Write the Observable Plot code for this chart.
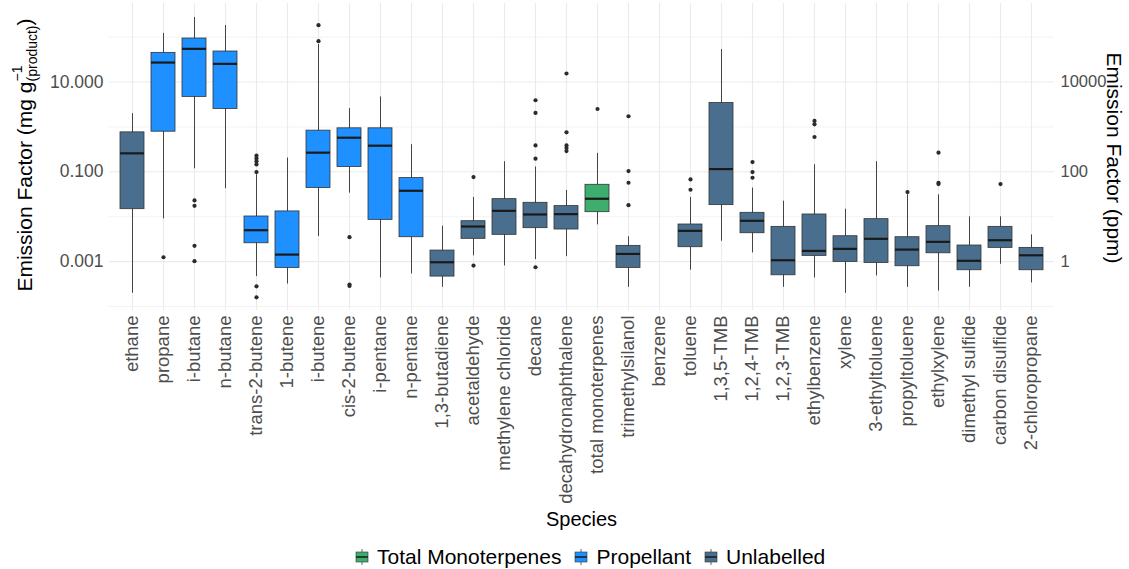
<!DOCTYPE html>
<html>
<head>
<meta charset="utf-8">
<script src="https://cdn.jsdelivr.net/npm/d3@7"></script>
<script src="https://cdn.jsdelivr.net/npm/@observablehq/plot@0.6"></script>
<style>
  html, body { margin: 0; padding: 0; background: #fff; width: 1129px; height: 569px; overflow: hidden; }
  body { font-family: "Liberation Sans", Arial, sans-serif; }
  #legend { height: 29px; box-sizing: border-box; padding-top: 5px; display: flex; align-items: center; padding-left: 355px; font-size: 21px; color: #000; }
  .item { display: flex; align-items: center; margin-right: 13px; }
  .item svg { margin-right: 8px; }
</style>
</head>
<body>
<div id="chart"></div>
<div id="legend"></div>
<script>
// ---- data (mg g^-1) ----
const species = ["ethane","propane","i-butane","n-butane","trans-2-butene","1-butene","i-butene","cis-2-butene","i-pentane","n-pentane","1,3-butadiene","acetaldehyde","methylene chloride","decane","decahydronaphthalene","total monoterpenes","trimethylsilanol","benzene","toluene","1,3,5-TMB","1,2,4-TMB","1,2,3-TMB","ethylbenzene","xylene","3-ethyltoluene","propyltoluene","ethylxylene","dimethyl sulfide","carbon disulfide","2-chloropropane"];
const group = ["Unlabelled","Propellant","Propellant","Propellant","Propellant","Propellant","Propellant","Propellant","Propellant","Propellant","Unlabelled","Unlabelled","Unlabelled","Unlabelled","Unlabelled","Total Monoterpenes","Unlabelled","Unlabelled","Unlabelled","Unlabelled","Unlabelled","Unlabelled","Unlabelled","Unlabelled","Unlabelled","Unlabelled","Unlabelled","Unlabelled","Unlabelled","Unlabelled"];
const whiskerLow  = [0.000196,0.00895,0.117,0.0419,0.000463,0.000317,0.00362,0.0335,0.000432,0.000531,0.000267,0.00134,0.0008,0.00111,0.00129,0.00658,0.000267,null,0.000641,0.00284,0.00156,0.000267,0.000432,0.000196,0.000479,0.000267,0.000221,0.000267,0.000871,0.000334];
const boxLow      = [0.0147,0.783,4.66,2.51,0.00256,0.000722,0.0434,0.128,0.0085,0.00349,0.000463,0.00321,0.00394,0.00555,0.00518,0.0126,0.000722,null,0.00209,0.0181,0.00428,0.000495,0.00134,0.000984,0.000933,0.000787,0.00153,0.000641,0.00202,0.000641];
const median      = [0.258,27.2,54.9,25.4,0.0050,0.00143,0.267,0.575,0.382,0.0378,0.000966,0.00604,0.0135,0.0112,0.0114,0.0251,0.00148,null,0.00484,0.115,0.0081,0.00107,0.00173,0.00192,0.00321,0.00185,0.00275,0.00104,0.00299,0.00138];
const boxHigh     = [0.757,44.7,93.3,47.9,0.0101,0.0131,0.826,0.931,0.931,0.0724,0.00176,0.00794,0.0246,0.0204,0.0172,0.0514,0.00224,null,0.0067,3.42,0.0122,0.00594,0.0112,0.00367,0.00881,0.00349,0.00615,0.00228,0.00594,0.00202];
const whiskerHigh = [1.98,121,275,182,0.0861,0.203,68.6,2.56,4.66,0.402,0.00615,0.0269,0.168,0.128,0.0385,0.258,0.00356,null,0.0269,53.1,0.0434,0.0222,0.144,0.0147,0.168,0.0308,0.0308,0.00993,0.00993,0.00394];
const outliers = [
  [], [0.00125], [0.023,0.0175,0.00224,0.00102], [],
  [0.229,0.199,0.171,0.146,0.0986,0.000281,0.00016], [], [185,81.4], [0.00349,0.000307,0.000286],
  [], [], [], [0.0762,0.000815], [], [3.93,2.05,0.388,0.196,0.000748],
  [15.5,0.757,0.388,0.339,0.290], [2.51], [1.73,0.104,0.057,0.0181], [],
  [0.0676,0.0398], [], [0.165,0.0986,0.0738], [], [1.36,1.14,0.596], [], [], [0.0353],
  [0.267,0.057,0.0532], [], [0.0532], []
];
const groups = ["Total Monoterpenes","Propellant","Unlabelled"];
const groupColors = ["#3dae6e","#1e90ff","#4a6f8e"];
const yTicks = [0.001, 0.1, 10];
const yMinor = [0.0001, 0.01, 1, 100];

// ---- tables built from the arrays ----
const boxes = species.map((s, i) => ({species: s, group: group[i], lo: whiskerLow[i], q1: boxLow[i], med: median[i], q3: boxHigh[i], hi: whiskerHigh[i]})).filter(d => d.med != null);
const outs = species.flatMap((s, i) => outliers[i].map(v => ({species: s, v})));

const font = '"Liberation Sans", Arial, sans-serif';
const plot = Plot.plot({
  width: 1129, height: 540,
  marginLeft: 109, marginRight: 75, marginTop: 3, marginBottom: 230,
  style: {fontFamily: font, background: "#fff"},
  x: {type: "band", domain: species, paddingInner: 0.23, paddingOuter: 0.215, align: 0.5},
  y: {type: "log", domain: [Math.pow(10, -4.09), Math.pow(10, 2.75)]},
  color: {domain: groups, range: groupColors},
  marks: [
    Plot.ruleY(yMinor, {stroke: "#f0f0f0", strokeWidth: 0.8}),
    Plot.ruleY(yTicks, {stroke: "#ebebeb", strokeWidth: 1.1}),
    Plot.gridX(species, {stroke: "#ebebeb", strokeOpacity: 1, strokeWidth: 1.1}),
    Plot.axisY({ticks: yTicks, tickFormat: d3.format(".3f"), tickSize: 0, tickPadding: 6, fontSize: 17.5, color: "#4d4d4d", label: null}),
    Plot.axisY({anchor: "right", ticks: yTicks, tickFormat: d => String(Math.round(d * 1000)), tickSize: 0, tickPadding: 6, fontSize: 16.5, color: "#4d4d4d", label: null}),
    Plot.axisX({tickRotate: -90, tickSize: 0, tickPadding: 5, fontSize: 18.5, color: "#4d4d4d", label: null}),
    Plot.ruleX(boxes, {x: "species", y1: "lo", y2: "hi", stroke: "#444", strokeWidth: 1}),
    Plot.barY(boxes, {x: "species", y1: "q1", y2: "q3", fill: "group", stroke: "#333", strokeWidth: 0.8}),
    Plot.tickY(boxes, {x: "species", y: "med", stroke: "#1a1a1a", strokeWidth: 2.2}),
    Plot.dot(outs, {x: "species", y: "v", r: 2.1, fill: "#2b2b2b", stroke: null})
  ]
});
document.getElementById("chart").appendChild(plot);

// ---- axis titles ----
const svg = d3.select(plot);
const lt = svg.append("text")
  .attr("transform", "translate(32,155) rotate(-90)")
  .attr("text-anchor", "middle").attr("font-size", 21).attr("fill", "#000").attr("font-family", font);
lt.append("tspan").text("Emission Factor (mg g");
const sup = lt.append("tspan").attr("font-size", 14).attr("dy", -10).text("\u22121");
const supW = sup.node().getComputedTextLength();
lt.append("tspan").attr("font-size", 14).attr("dx", -supW).attr("dy", 15).text("(product)");
lt.append("tspan").attr("dy", -5).text(")");

svg.append("text")
  .attr("transform", "translate(1107,158) rotate(90)")
  .attr("text-anchor", "middle").attr("font-size", 21).attr("fill", "#000").attr("font-family", font)
  .text("Emission Factor (ppm)");

svg.append("text")
  .attr("x", 581.5).attr("y", 526)
  .attr("text-anchor", "middle").attr("font-size", 20).attr("fill", "#000").attr("font-family", font)
  .text("Species");

// ---- legend ----
const legend = d3.select("#legend");
groups.forEach((g, i) => {
  const item = legend.append("div").attr("class", "item");
  const s = item.append("svg").attr("width", 14).attr("height", 16);
  s.append("line").attr("x1", 7).attr("x2", 7).attr("y1", 0).attr("y2", 16).attr("stroke", "#666").attr("stroke-width", 1);
  s.append("rect").attr("x", 1).attr("y", 3).attr("width", 12).attr("height", 10).attr("fill", groupColors[i]).attr("stroke", "#333").attr("stroke-width", 0.6);
  s.append("line").attr("x1", 1).attr("x2", 13).attr("y1", 8).attr("y2", 8).attr("stroke", "#1a1a1a").attr("stroke-width", 1.5);
  item.append("span").text(g);
});
</script>
</body>
</html>
